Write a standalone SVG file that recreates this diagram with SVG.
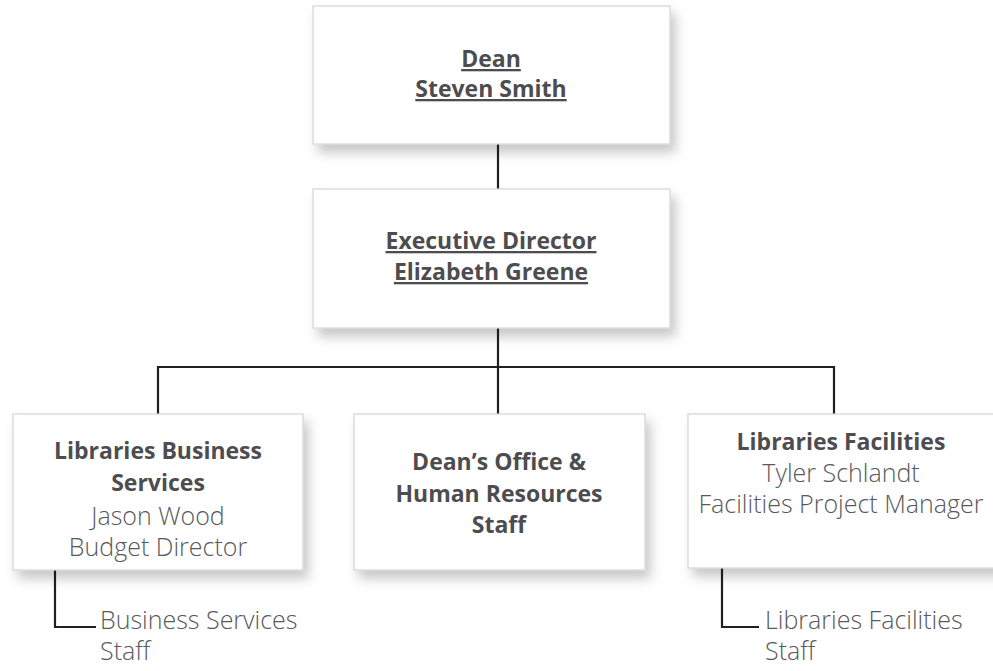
<svg xmlns="http://www.w3.org/2000/svg" width="993" height="671" viewBox="0 0 993 671">
<defs>
<filter id="sh" x="-10%" y="-10%" width="130%" height="140%">
<feDropShadow dx="5" dy="8" stdDeviation="6" flood-color="#000" flood-opacity="0.22"/>
</filter>
<style>
.box{fill:#fff;stroke:#d4d4d4;stroke-width:1.2;filter:url(#sh)}
.b{font-family:"Open Sans","Liberation Sans",sans-serif;font-weight:700;font-size:23px;fill:#4d4d4f;text-anchor:middle}
.u{text-decoration:underline}
.l{font-family:"Open Sans","Liberation Sans",sans-serif;font-weight:300;font-size:25px;fill:#58595b}
.c{text-anchor:middle}
.ln{fill:none;stroke:#231f20;stroke-width:2.2}
</style>
</defs>
<rect width="993" height="671" fill="#fff"/>
<g id="connectors">
<path class="ln" d="M498 144V189"/>
<path class="ln" d="M498 328V414"/>
<path class="ln" d="M158 414V367H834V414"/>
<path class="ln" d="M55 570V627H96"/>
<path class="ln" d="M722 568V627H759"/>
</g>
<g id="dean">
<rect class="box" x="313" y="6" width="357" height="138"/>
<text class="b u" x="491" y="67">Dean</text>
<text class="b u" x="491" y="97">Steven Smith</text>
</g>
<g id="exec">
<rect class="box" x="313" y="189" width="357" height="139"/>
<text class="b u" x="491" y="249">Executive Director</text>
<text class="b u" x="491" y="280">Elizabeth Greene</text>
</g>
<g id="business">
<rect class="box" x="13" y="414" width="290" height="156"/>
<text class="b" x="158" y="459">Libraries Business</text>
<text class="b" x="158" y="491">Services</text>
<text class="l c" x="158" y="525">Jason Wood</text>
<text class="l c" x="158" y="556">Budget Director</text>
</g>
<g id="deans-office">
<rect class="box" x="354" y="414" width="291" height="156"/>
<text class="b" x="499" y="470">Dean’s Office &amp;</text>
<text class="b" x="499" y="502">Human Resources</text>
<text class="b" x="499" y="533">Staff</text>
</g>
<g id="facilities">
<rect class="box" x="688" y="414" width="320" height="154"/>
<text class="b" x="841" y="450">Libraries Facilities</text>
<text class="l c" x="841" y="482">Tyler Schlandt</text>
<text class="l c" x="841" y="513">Facilities Project Manager</text>
</g>
<g id="business-staff">
<text class="l" x="100" y="629">Business Services</text>
<text class="l" x="100" y="660">Staff</text>
</g>
<g id="facilities-staff">
<text class="l" x="765" y="629">Libraries Facilities</text>
<text class="l" x="765" y="660">Staff</text>
</g>
</svg>
